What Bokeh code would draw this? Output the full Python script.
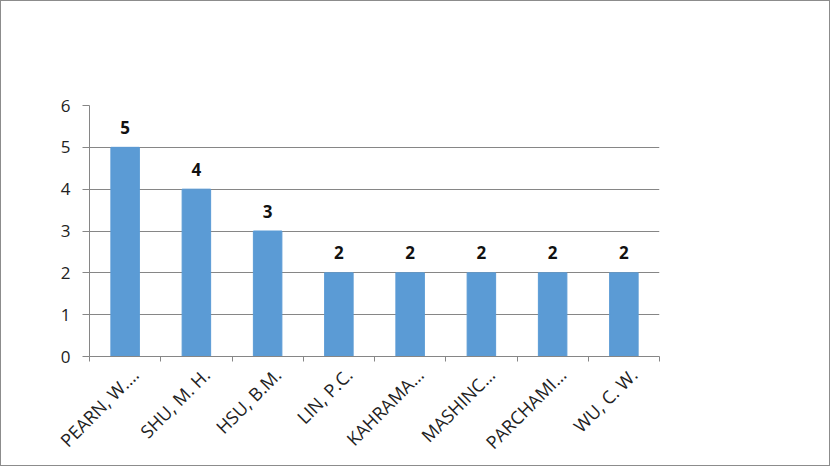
from bokeh.plotting import figure
from bokeh.models import Range1d, LinearAxis, FixedTicker, SingleIntervalTicker, ColumnDataSource
from bokeh.core.properties import value
from bokeh.embed import file_html
from bokeh.resources import INLINE
import math

authors = ["PEARN, W.…", "SHU, M. H.", "HSU, B.M.", "LIN, P.C.", "KAHRAMA…", "MASHINC…", "PARCHAMI…", "WU, C. W."]
counts = [5, 4, 3, 2, 2, 2, 2, 2]
y_max = 6

FONT = "Open Sans"
GREY = "#868686"
BAR = "#5B9BD5"
LABEL_SHIFT = 0.14  # horizontal nudge of rotated labels (style)

n = len(authors)
centers = [i + 0.5 for i in range(n)]
src = ColumnDataSource(data=dict(x=centers, y=counts, lab=[str(v) for v in counts]))

p = figure(width=830, height=466, output_backend="svg", toolbar_location=None,
           x_range=Range1d(0, n), y_range=Range1d(0, y_max),
           x_axis_location=None, y_axis_location=None,
           min_border_left=88, min_border_top=104, min_border_right=172, min_border_bottom=111)
p.styles = {"border": "1px solid #8c8c8c", "box-sizing": "border-box"}
p.outline_line_color = None
p.background_fill_color = "white"
p.border_fill_color = "white"

p.vbar(x="x", top="y", width=0.4, color=BAR, source=src)
p.text(x="x", y="y", text="lab", source=src, text_align="center", text_baseline="alphabetic",
       y_offset=-20, text_font=value(FONT), text_font_style="bold", text_font_size="17px", text_color="#111")

# y axis
yax = LinearAxis(ticker=SingleIntervalTicker(interval=1))
yax.axis_line_color = GREY
yax.major_tick_line_color = GREY
yax.major_tick_out = 7
yax.major_tick_in = 0
yax.minor_tick_line_color = None
yax.major_label_text_font = FONT
yax.major_label_text_font_size = "17px"
yax.major_label_text_color = "#222"
yax.major_label_standoff = 12
p.add_layout(yax, "left")

# x tick marks at category boundaries
tax = LinearAxis(ticker=FixedTicker(ticks=list(range(n + 1))))
tax.axis_line_color = GREY
tax.major_tick_line_color = GREY
tax.major_tick_out = 5
tax.major_tick_in = 0
tax.minor_tick_line_color = None
tax.major_label_text_font_size = "1px"
tax.major_label_text_color = None
tax.major_label_standoff = 0
p.add_layout(tax, "below")

# category labels
cax = LinearAxis(ticker=FixedTicker(ticks=[c + LABEL_SHIFT for c in centers]))
cax.major_label_overrides = {c + LABEL_SHIFT: a for c, a in zip(centers, authors)}
cax.axis_line_color = None
cax.major_tick_line_color = None
cax.major_tick_out = 0
cax.minor_tick_line_color = None
cax.major_label_orientation = math.pi / 4
cax.major_label_text_font = FONT
cax.major_label_text_font_size = "18px"
cax.major_label_text_color = "#222"
cax.major_label_standoff = 10
p.add_layout(cax, "below")

p.ygrid.grid_line_color = GREY
p.xgrid.grid_line_color = None
for g in p.ygrid:
    g.ticker = yax.ticker

open("out.html", "w").write(file_html(p, INLINE))
